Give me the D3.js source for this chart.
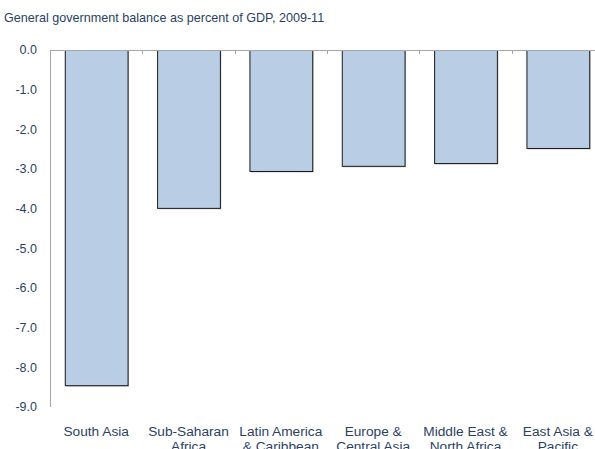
<!DOCTYPE html>
<html>
<head>
<meta charset="utf-8">
<script src="https://cdn.jsdelivr.net/npm/d3@7"></script>
<style>
  body { margin: 0; background: #fff; }
  svg { display: block; font-family: "Liberation Sans", Arial, sans-serif; }
</style>
</head>
<body>
<svg width="595" height="449"></svg>
<script>
// General government balance, % of GDP, 2009-11
const regions = [
  ["South Asia"],
  ["Sub-Saharan", "Africa"],
  ["Latin America", "& Caribbean"],
  ["Europe &", "Central Asia"],
  ["Middle East &", "North Africa"],
  ["East Asia &", "Pacific"]
];
const balance = [-8.45, -3.98, -3.05, -2.92, -2.85, -2.47];
const yTicks = [0, -1, -2, -3, -4, -5, -6, -7, -8, -9];

const textColor = "#2b3f63";
const svg = d3.select("svg");

const x = d3.scaleBand()
  .domain(d3.range(regions.length))
  .range([50, 604])
  .paddingInner(0.32)
  .paddingOuter(0.16);

const y = d3.scaleLinear()
  .domain([0, -9])
  .range([50, 407]);

// title
svg.append("text")
  .attr("x", 4)
  .attr("y", 22)
  .attr("font-size", 12.6)
  .attr("fill", textColor)
  .text("General government balance as percent of GDP, 2009-11");

// y labels (no tick marks), plain hyphen as in the source
svg.append("g")
  .selectAll("text")
  .data(yTicks)
  .join("text")
  .attr("x", 37)
  .attr("y", d => y(d))
  .attr("dy", "0.35em")
  .attr("text-anchor", "end")
  .attr("font-size", 12.5)
  .attr("fill", textColor)
  .text(d => d3.format(".1f")(d).replace("\u2212", "-"));

// y axis line
svg.append("line")
  .attr("x1", 50.5).attr("x2", 50.5)
  .attr("y1", y(0)).attr("y2", y(-9))
  .attr("stroke", "#a6a6a6");

// shadows
svg.append("g")
  .selectAll("rect")
  .data(balance)
  .join("rect")
  .attr("x", (d, i) => x(i) + 1.5)
  .attr("y", y(0) + 1.5)
  .attr("width", x.bandwidth())
  .attr("height", d => y(d) - y(0))
  .attr("fill", "#c8c8c8");

// bars
svg.append("g")
  .selectAll("rect")
  .data(balance)
  .join("rect")
  .attr("x", (d, i) => x(i) + 0.5)
  .attr("y", y(0) + 0.5)
  .attr("width", x.bandwidth())
  .attr("height", d => y(d) - y(0))
  .attr("fill", "#b9cde5")
  .attr("stroke", "#1a1a1a")
  .attr("stroke-width", 1);

// x axis along zero line with small ticks between categories
const step = x.step();
const bounds = d3.range(1, regions.length).map(i => x(i) - step * x.paddingInner() / 2);
svg.append("line")
  .attr("x1", 50).attr("x2", 604)
  .attr("y1", y(0) + 0.5).attr("y2", y(0) + 0.5)
  .attr("stroke", "#a6a6a6");
svg.append("g")
  .selectAll("line")
  .data(bounds)
  .join("line")
  .attr("x1", d => Math.round(d) + 0.5)
  .attr("x2", d => Math.round(d) + 0.5)
  .attr("y1", y(0))
  .attr("y2", y(0) + 4)
  .attr("stroke", "#a6a6a6");

// category labels
const cat = svg.append("g")
  .selectAll("text")
  .data(regions)
  .join("text")
  .attr("x", (d, i) => x(i) + x.bandwidth() / 2)
  .attr("y", 436)
  .attr("text-anchor", "middle")
  .attr("font-size", 13.7)
  .attr("fill", textColor);
cat.selectAll("tspan")
  .data(d => d)
  .join("tspan")
  .attr("x", function () { return this.parentNode.getAttribute("x"); })
  .attr("dy", (d, i) => i === 0 ? 0 : 15)
  .text(d => d);
</script>
</body>
</html>
